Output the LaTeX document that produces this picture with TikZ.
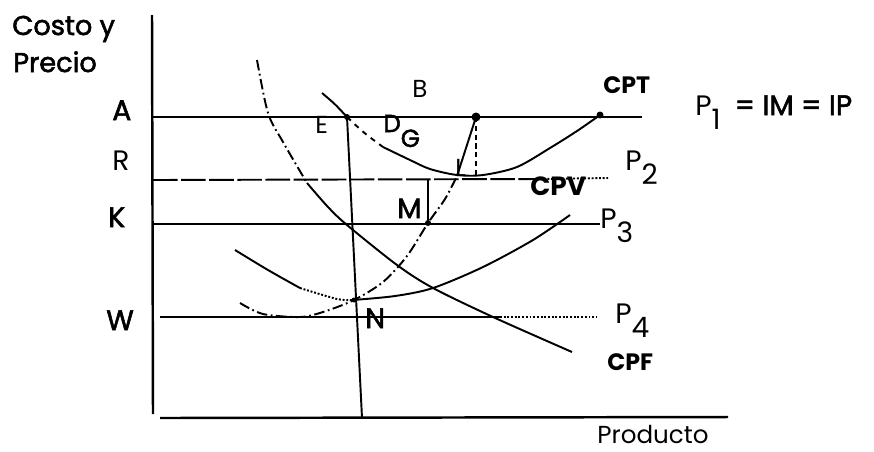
\documentclass[tikz,border=0pt]{standalone}
\usepackage{fontspec}
\setmainfont{Poppins}
\newfontfamily\heavyfont{Poppins}[FakeBold=2]
\newcommand{\lowidx}[1]{\raisebox{-8.5pt}{#1}}
\tikzset{
    axisline/.style = {line width=1.4pt},
    levelline/.style = {line width=1.1pt},
    curveline/.style = {line width=1.1pt},
    guideline/.style = {line width=0.6pt},
    dashdot/.style = {dash pattern=on 6pt off 2pt on 1pt off 2pt},
    bigtxt/.style = {anchor=base west, inner sep=0pt, font=\fontsize{15.5}{18}\heavyfont},
    lvltxt/.style = {anchor=base west, inner sep=0pt, font=\fontsize{16}{18}\selectfont},
    heavytxt/.style = {anchor=base west, inner sep=0pt, font=\fontsize{16}{18}\heavyfont},
    smtxt/.style = {anchor=base west, inner sep=0pt, font=\fontsize{14}{16}\selectfont},
    crvtxt/.style = {anchor=base west, inner sep=0pt, font=\fontsize{13.5}{16}\selectfont\bfseries}
}
\begin{document}
\begin{tikzpicture}[x=0.02cm, y=-0.02cm]
    \useasboundingbox (0,0) rectangle (874,451);

    \coordinate (ytop) at (152,15);
    \coordinate (ybot) at (153,414);
    \coordinate (xbeg) at (160,418);
    \coordinate (xend) at (728,417);
    \draw[axisline] (ytop) -- (ybot);
    \draw[axisline] (xbeg) -- (xend);

    \coordinate (A0) at (153,117);
    \coordinate (A1) at (642,117);
    \coordinate (R0) at (153,180);
    \coordinate (R1) at (540,179);
    \coordinate (R2) at (608,178);
    \coordinate (K0) at (153,224);
    \coordinate (K1) at (600,224);
    \coordinate (W0) at (160,317);
    \coordinate (W1) at (500,317);
    \coordinate (W2) at (597,317);
    \draw[levelline] (A0) -- (A1);
    \draw[levelline, dash pattern=on 14pt off 2pt] (R0) -- (R1);
    \draw[levelline, densely dotted] (R1) -- (R2);
    \draw[levelline] (K0) -- (K1);
    \draw[levelline] (W0) -- (W1);
    \draw[levelline, densely dotted] (W1) -- (W2);

    \coordinate (E) at (347,117);
    \coordinate (Ebot) at (362,418);
    \coordinate (Q) at (476,117);
    \coordinate (Qbot) at (476,176);
    \coordinate (T) at (600,115);
    \coordinate (L) at (457,176);
    \coordinate (M) at (428,223);
    \coordinate (Mtop) at (428,179);
    \coordinate (N) at (354,300);
    \draw[levelline] (E) -- (Ebot);
    \draw[guideline, densely dashed] (Q) -- (Qbot);
    \draw[guideline] (M) -- (Mtop);

    \draw[curveline, dashdot] plot[smooth] coordinates {(257,60) (268,113) (283,142) (307,183)};
    \draw[curveline] plot[smooth] coordinates {(307,183) (328,207) (347,225) (397,265) (433,288) (493,317) (572,352)};

    \draw[curveline] (322,93) .. controls (335,104) .. (E);
    \draw[curveline, dash pattern=on 3pt off 3pt] (E) .. controls (364,133) .. (383,147);
    \draw[curveline] plot[smooth] coordinates {(383,147) (410,160) (430,169) (457,175) (483,175) (517,167) (550,148) (577,131) (600,115)};

    \draw[curveline, dashdot] plot[smooth] coordinates {(240,303) (263,314) (300,317) (323,312) (354,300) (383,282) (407,256) (428,223) (445,199) (457,176)};
    \draw[curveline] (L) -- (Q);

    \draw[curveline] plot[smooth] coordinates {(235,250) (268,270) (300,288)};
    \draw[curveline, densely dotted] plot[smooth] coordinates {(300,288) (337,299) (353,300)};
    \draw[curveline] plot[smooth] coordinates {(353,300) (395,296) (433,288) (483,267) (533,240) (570,215)};

    \fill (E) circle (3);
    \fill (Q) circle (4.5);
    \fill (T) circle (3.5);
    \fill (M) circle (3);
    \fill (N) circle (2.5);

    \node[bigtxt] (costo) at (12,35) {Costo y};
    \node[bigtxt] (precio) at (13,72) {Precio};
    \node[heavytxt] (lblA) at (112,120) {A};
    \node[lvltxt] (lblR) at (112,170) {R};
    \node[heavytxt] (lblK) at (108,227) {K};
    \node[heavytxt] (lblW) at (106,330) {W};
    \node[smtxt] (lblE) at (315,133) {E};
    \node[smtxt] (lblB) at (412,97) {B};
    \node[heavytxt, font=\fontsize{14}{16}\heavyfont] (lblD) at (383,132) {D\lowidx{G}};
    \node[heavytxt] (lblM) at (397,218) {M};
    \node[heavytxt] (lblN) at (365,328) {N};
    \node[smtxt] (lblL) at (455,176) {L};
    \node[crvtxt] (cpt) at (603,93) {CPT};
    \node[crvtxt, font=\fontsize{15}{17}\selectfont\bfseries] (cpv) at (530,195) {CPV};
    \node[crvtxt] (cpf) at (607,370) {CPF};
    \node[lvltxt] (p2) at (625,170) {P\lowidx{2}};
    \node[lvltxt] (p3) at (600,228) {P\lowidx{3}};
    \node[lvltxt] (p4) at (615,323) {P\lowidx{4}};
    \node[lvltxt] (p1) at (695,115) {P\lowidx{1}\hspace{8pt}{\heavyfont = IM = IP}};
    \node[smtxt] (prod) at (597,443) {Producto};
\end{tikzpicture}
\end{document}
